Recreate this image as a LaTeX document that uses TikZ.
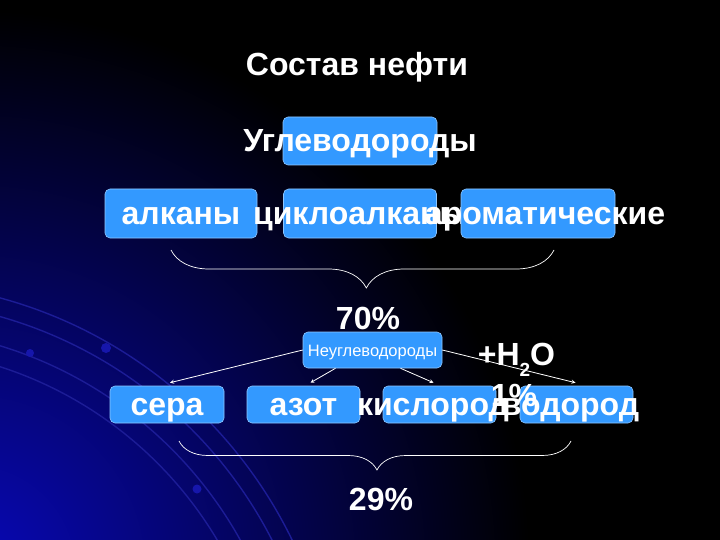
\documentclass[tikz,border=0pt]{standalone}
\usepackage{fontspec}
\setmainfont{Liberation Sans}
\usetikzlibrary{calc,positioning,arrows,shadings,decorations.pathreplacing}
\definecolor{azulcaja}{RGB}{51,153,255}
\definecolor{azulfondo}{RGB}{8,8,185}
\definecolor{azularco}{RGB}{28,28,150}
\newcommand{\letragrande}{\fontsize{32}{38}\selectfont\bfseries}
\newcommand{\letrachica}{\fontsize{16.5}{18}\selectfont}
\tikzstyle{rectazul} = [rectangle, rounded corners=5pt, inner sep=0pt, fill=azulcaja, draw=azulcaja!55!white, line width=0.6pt, text=white, font=\letragrande, text height=22pt, text depth=0pt]
\tikzstyle{texto} = [inner sep=0pt, text=white, font=\letragrande, anchor=base]
\tikzstyle{flecha} = [white, line width=0.8pt, ->, >=stealth]
\tikzstyle{llave} = [white, line width=0.7pt, decorate]

\begin{document}
\begin{tikzpicture}[x=1pt, y=-1pt]
	% Fondo
	\fill[black] (0,0) rectangle (720,540);
	\begin{scope}
		\clip (0,0) rectangle (720,540);
		\shade[inner color=azulfondo, outer color=black] (-30,570) circle (560);
		\foreach \r in {392,412,440,458} {
			\draw[azularco, line width=1.4pt] (-120,740) circle (\r);
		}
		\fill[azularco!80!blue] (106,348) circle (5);
		\fill[azularco!80!blue] (30,353) circle (4);
		\fill[azularco!80!blue] (197,489) circle (4.5);
	\end{scope}
	% Cuadros
	\node (titulo) [texto] at (357,76) {Состав нефти};
	\node (uglevod) [rectazul, minimum width=154, minimum height=48] at (360,141) {\makebox[0pt]{Углеводороды}};
	\node (alkany) [rectazul, minimum width=152, minimum height=49] at (181,213.5) {\makebox[0pt]{алканы}};
	\node (cikloalk) [rectazul, minimum width=153, minimum height=49] at (360,213.5) {\makebox[0pt]{циклоалканы}};
	\node (aromat) [rectazul, minimum width=154, minimum height=49] at (538,213.5) {\makebox[0pt]{\hspace{14pt}ароматические}};
	\coordinate (llave1a) at (171,250);
	\coordinate (llave1b) at (554,250);
	\draw[llave, decoration={brace, mirror, amplitude=38pt, aspect=0.51}] (llave1a) -- (llave1b);
	\node (proc70) [texto] at (368,329) {70\%};
	\node (neuglevod) [rectazul, font=\letrachica, text height=12pt, minimum width=139, minimum height=36] at (372.5,350) {\makebox[0pt]{Неуглеводороды}};
	\node (agua) [texto] at (516.5,365) {+H\raisebox{-11pt}{\fontsize{19}{20}\selectfont 2}O};
	\node (sera) [rectazul, minimum width=114, minimum height=37] at (167,404.5) {\makebox[0pt]{сера}};
	\node (azot) [rectazul, minimum width=113, minimum height=37] at (303.5,404.5) {\makebox[0pt]{азот}};
	\node (kislorod) [rectazul, minimum width=113, minimum height=37] at (439.5,404.5) {\makebox[0pt]{\hspace{-13pt}кислород}};
	\node (vodorod) [rectazul, minimum width=113, minimum height=37] at (576.5,404.5) {\makebox[0pt]{\hspace{-12pt}водород}};
	\node (proc1) [texto] at (514,406) {1\%};
	\coordinate (llave2a) at (179,441);
	\coordinate (llave2b) at (571,441);
	\draw[llave, decoration={brace, mirror, amplitude=29pt, aspect=0.505}] (llave2a) -- (llave2b);
	\node (proc29) [texto] at (381,510) {29\%};
	% Flechas
	\draw[flecha] (neuglevod.west) -- ([xshift=3pt,yshift=3pt]sera.north);
	\draw[flecha] ([xshift=-37pt]neuglevod.south) -- ([xshift=7pt,yshift=3pt]azot.north);
	\draw[flecha] ([xshift=28pt]neuglevod.south) -- ([xshift=-6pt,yshift=3pt]kislorod.north);
	\draw[flecha] (neuglevod.east) -- ([xshift=-1pt,yshift=3pt]vodorod.north);
\end{tikzpicture}
\end{document}
